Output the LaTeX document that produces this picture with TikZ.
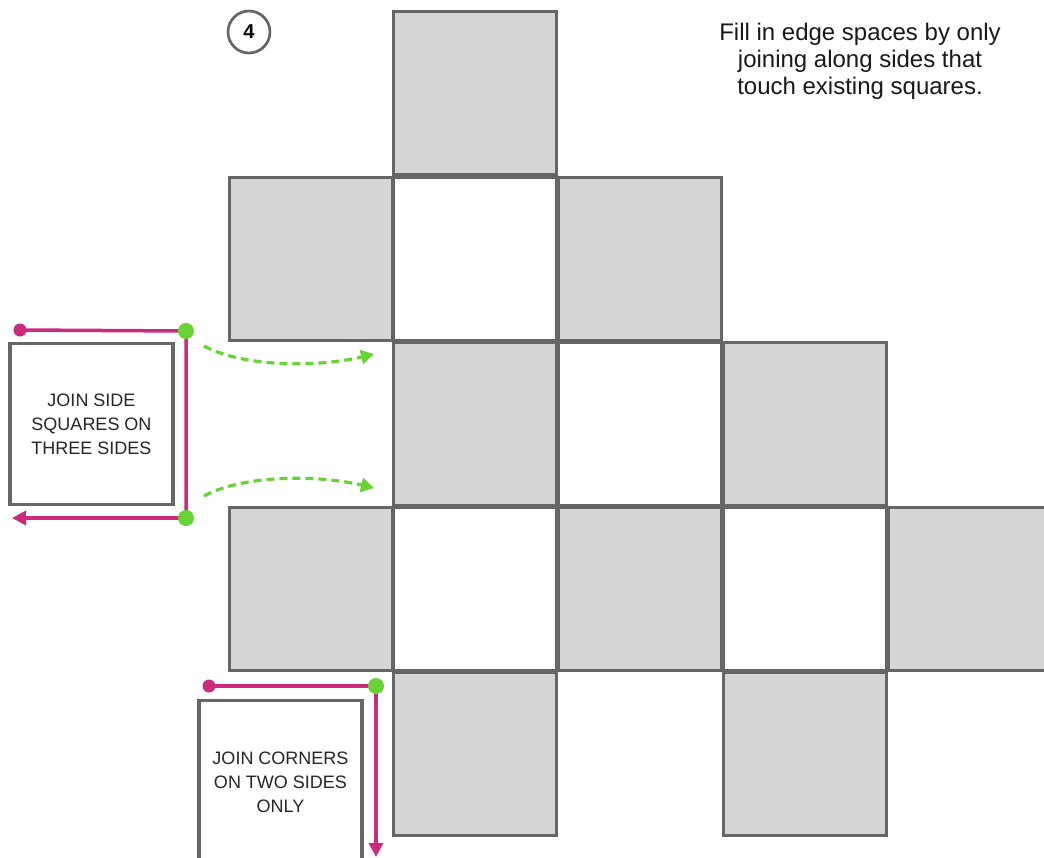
\documentclass[tikz,border=0pt]{standalone}
\usepackage{fontspec}
\setmainfont{Liberation Sans}
\usetikzlibrary{arrows.meta}
\definecolor{sqfill}{RGB}{213,213,213}
\definecolor{sqline}{RGB}{102,102,102}
\definecolor{mag}{RGB}{204,43,125}
\definecolor{grn}{RGB}{102,212,52}
\begin{document}
\begin{tikzpicture}[x=1pt,y=-1pt,
  sq/.style={draw=sqline,line width=3.3pt,minimum size=163pt,inner sep=0pt,anchor=north west},
  graysq/.style={sq,fill=sqfill},
  whitesq/.style={sq,fill=white},
  labelbox/.style={draw=sqline,line width=3.3pt,fill=white,inner sep=0pt,align=center,
    font=\fontsize{18}{24}\selectfont,text=black!85},
  magline/.style={draw=mag,line width=3.5pt},
  magdot/.style={circle,fill=mag,inner sep=0pt,minimum size=13pt},
  grndot/.style={circle,fill=grn,inner sep=0pt,minimum size=16pt},
  grnarrow/.style={draw=grn,line width=3.2pt,dash pattern=on 8pt off 5pt,
    -{Triangle[length=13pt,width=14pt]}}
]
\useasboundingbox (0,0) rectangle (1044,857);
\clip (0,0) rectangle (1044,857);
\fill[white] (0,0) rectangle (1044,857);

% squares
\node[graysq] (r0c1) at (392,10) {};
\node[graysq] (r1c0) at (228,176) {};
\node[whitesq] (r1c1) at (392,176) {};
\node[graysq] (r1c2) at (557,176) {};
\node[graysq] (r2c1) at (392,341) {};
\node[whitesq] (r2c2) at (557,341) {};
\node[graysq] (r2c3) at (722,341) {};
\node[graysq] (r3c0) at (228,506) {};
\node[whitesq] (r3c1) at (392,506) {};
\node[graysq] (r3c2) at (557,506) {};
\node[whitesq] (r3c3) at (722,506) {};
\node[graysq] (r3c4) at (887,506) {};
\node[graysq] (r4c1) at (392,671) {};
\node[graysq] (r4c3) at (722,671) {};

% circle 4
\node[circle,draw=sqline,line width=2.7pt,minimum size=42pt,inner sep=0pt,
  font=\bfseries\fontsize{20}{20}\selectfont] (num) at (249,32) {4};

% instruction text
\node[align=center,font=\fontsize{24}{27}\selectfont,text=black!90] (instr) at (860,61)
  {Fill in edge spaces by only\\joining along sides that\\touch existing squares.};

% label boxes
\node[labelbox,minimum width=163pt,minimum height=161pt] (box1) at (91.5,424)
  {JOIN SIDE\\SQUARES ON\\THREE SIDES};
\node[labelbox,minimum width=163pt,minimum height=163pt] (box2) at (280.5,782)
  {JOIN CORNERS\\ON TWO SIDES\\ONLY};

% magenta guides 1
\coordinate (m1) at (20,330);
\coordinate (g1) at (186,331);
\coordinate (g2) at (186,518);
\coordinate (e1) at (12,518);
\draw[magline] (m1) -- (g1) -- (g2);
\draw[magline,-{Triangle[length=14pt,width=14pt]}] (g2) -- (e1);
\node[magdot] (m1dot) at (m1) {};
\node[grndot] (g1dot) at (g1) {};
\node[grndot] (g2dot) at (g2) {};

% magenta guides 2
\coordinate (m2) at (209,686);
\coordinate (g3) at (376,686);
\coordinate (e2) at (376,857);
\draw[magline] (m2) -- (g3);
\draw[magline,-{Triangle[length=14pt,width=14pt]}] (g3) -- (e2);
\node[magdot] (m2dot) at (m2) {};
\node[grndot] (g3dot) at (g3) {};

% green dashed arrows
\coordinate (a1s) at (204,346);
\coordinate (a1e) at (374,354);
\coordinate (a2s) at (204,496);
\coordinate (a2e) at (374,488);
\draw[grnarrow] (a1s) .. controls (245,368) and (320,367) .. (a1e);
\draw[grnarrow] (a2s) .. controls (245,474) and (320,475) .. (a2e);
\end{tikzpicture}
\end{document}
